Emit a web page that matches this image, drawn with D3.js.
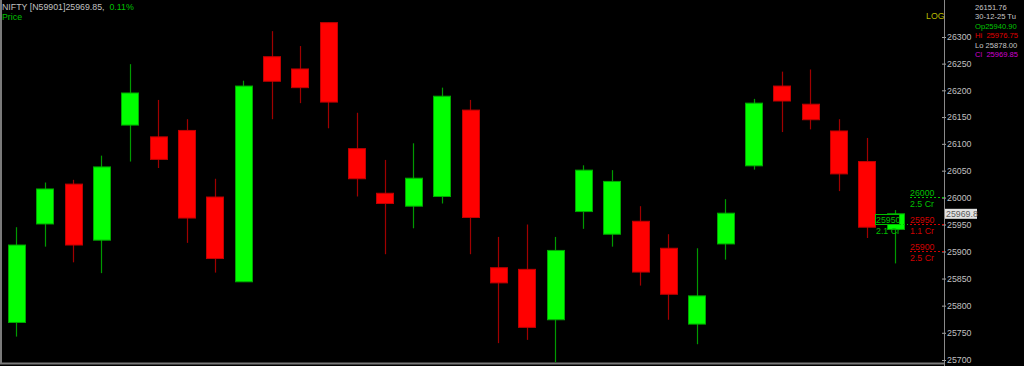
<!DOCTYPE html>
<html>
<head>
<meta charset="utf-8">
<script src="https://cdn.jsdelivr.net/npm/d3@7"></script>
<style>
html, body { margin: 0; padding: 0; background: #000; overflow: hidden; }
svg { display: block; font-family: "Liberation Sans", Arial, sans-serif; }
text { white-space: pre; }
</style>
</head>
<body>
<svg id="chart"></svg>
<script>
// daily NIFTY candles, 14-Nov-25 .. 30-Dec-25
const dates = ["14-11","17-11","18-11","19-11","20-11","21-11","24-11","25-11","26-11","27-11","28-11",
               "01-12","02-12","03-12","04-12","05-12","08-12","09-12","10-12","11-12","12-12",
               "15-12","16-12","17-12","18-12","19-12","22-12","23-12","24-12","26-12","29-12","30-12"];
const opens  = [25769,25951,26025,25921,26135,26113,26125,26001,25844,26263,26240,
                26327,26091,26008,25984,26002,26163,25870,25867,25774,25974,
                25932,25956,25906,25766,25914,26059,26208,26174,26124,26067,25940.90];
const highs  = [25945,26028,26033,26078,26249,26182,26146,26035,26218,26311,26283,
                26327,26158,26070,26101,26205,26182,25927,25950,25927,26060,
                26051,25984,25932,25906,25997,26184,26235,26239,26146,26111,25976.75];
const lows   = [25743,25909,25880,25860,26067,26055,25916,25861,25844,26146,26176,
                26129,26002,25895,25943,25989,25895,25731,25737,25696,25942,
                25909,25837,25774,25729,25885,26052,26122,26127,26012,25925,25878.00];
const closes = [25912,26016,25912,26057,26195,26071,25962,25887,26208,26217,26205,
                26178,26035,25989,26036,26189,25963,25842,25760,25902,26051,
                26030,25862,25821,25818,25971,26176,26180,26145,26044,25945,25969.85];

const priceTicks = [25700,25750,25800,25850,25900,25950,26000,26050,26100,26150,26200,26250,26300];

// order levels on the right
const levelPrices = [26000, 25950, 25900];
const levelQty    = ["2.5 Cr", "1.1 Cr", "2.5 Cr"];
const levelSide   = ["buy", "sell", "sell"];
const positionPrice = 25950;
const positionQty   = "2.1 Cr";

const infoLines  = ["26151.76", "30-12-25 Tu", "Op25940.90", "Hi  25976.75", "Lo 25878.00", "Cl  25969.85"];
const infoColors = ["#c8c8c8", "#c8c8c8", "#00c800", "#e00000", "#c8c8c8", "#d000d0"];

const W = 1024, H = 366;
const axisX = 944;
const FS = 8.8;

const candles = dates.map((d, i) => ({
  date: d, open: opens[i], high: highs[i], low: lows[i], close: closes[i]
}));

const svg = d3.select("#chart").attr("width", W).attr("height", H);
svg.append("rect").attr("width", W).attr("height", H).attr("fill", "#000");

const x = d3.scaleBand()
  .domain(dates)
  .range([2.1, 909.3])
  .paddingInner(0.41)
  .paddingOuter(0.205);

const y = d3.scaleLog()
  .domain([25700, 26300])
  .range([360, 37]);

const bw = Math.round(x.bandwidth());

// frame
svg.append("line").attr("x1", 1).attr("x2", 1).attr("y1", 0).attr("y2", 364)
  .attr("stroke", "#7a7a7a").attr("stroke-width", 2);
svg.append("line").attr("x1", 0).attr("x2", axisX).attr("y1", 363.5).attr("y2", 363.5)
  .attr("stroke", "#7a7a7a").attr("stroke-width", 2);
svg.append("line").attr("x1", axisX + 0.5).attr("x2", axisX + 0.5).attr("y1", 0).attr("y2", H)
  .attr("stroke", "#8a8a8a").attr("stroke-width", 1);

// candles
const plot = svg.append("g");
const up = d => d.close >= d.open;

plot.selectAll(".wick")
  .data(candles)
  .join("line")
  .attr("class", "wick")
  .attr("x1", d => Math.round(x(d.date) + bw / 2) + 0.5)
  .attr("x2", d => Math.round(x(d.date) + bw / 2) + 0.5)
  .attr("y1", d => y(d.high))
  .attr("y2", d => y(d.low))
  .attr("stroke", d => up(d) ? "#009a00" : "#a00000")
  .attr("stroke-width", 1.2);

plot.selectAll(".body")
  .data(candles)
  .join("rect")
  .attr("class", "body")
  .attr("x", d => Math.round(x(d.date)) + 0.5)
  .attr("y", d => y(Math.max(d.open, d.close)))
  .attr("width", bw)
  .attr("height", d => Math.max(1, y(Math.min(d.open, d.close)) - y(Math.max(d.open, d.close))))
  .attr("fill", d => up(d) ? "#00ff00" : "#ff0000")
  .attr("stroke", d => up(d) ? "#00a800" : "#c00000")
  .attr("stroke-width", 1);

// price axis
const axis = svg.append("g")
  .attr("transform", `translate(${axisX},0)`)
  .call(d3.axisRight(y).tickValues(priceTicks).tickFormat(d3.format("d")).tickSize(2).tickPadding(1).tickSizeOuter(0));
axis.select(".domain").remove();
axis.selectAll(".tick line").attr("x1", -2).attr("stroke", "#a0a0a0");
axis.selectAll(".tick text")
  .attr("fill", "#c0c0c0")
  .attr("font-size", FS)
  .attr("font-family", "Liberation Sans, Arial, sans-serif");

// order levels
const lvl = svg.append("g");
levelPrices.forEach((p, i) => {
  const c = levelSide[i] === "buy" ? "#00c000" : "#d00000";
  const yy = Math.round(y(p)) - 0.5;
  lvl.append("line").attr("x1", 910).attr("x2", axisX).attr("y1", yy).attr("y2", yy)
    .attr("stroke", c).attr("stroke-dasharray", "2,2");
  lvl.append("text").attr("x", 910).attr("y", yy - 2).attr("fill", c)
    .attr("font-size", FS).text(d3.format("d")(p));
  lvl.append("text").attr("x", 910).attr("y", yy + 9.5).attr("fill", c)
    .attr("font-size", FS).text(levelQty[i]);
});

// open position tag
const py = Math.round(y(positionPrice)) - 0.5;
lvl.append("line").attr("x1", 875).attr("x2", 908).attr("y1", py).attr("y2", py)
  .attr("stroke", "#00c000").attr("stroke-dasharray", "2,2");
lvl.append("rect").attr("x", 875.5).attr("y", py - 10).attr("width", 24).attr("height", 10)
  .attr("fill", "#000").attr("stroke", "#00c000").attr("stroke-width", 1);
lvl.append("text").attr("x", 876).attr("y", py - 2).attr("fill", "#00c000")
  .attr("font-size", FS).text(d3.format("d")(positionPrice));
lvl.append("text").attr("x", 876).attr("y", py + 9.5).attr("fill", "#00c000")
  .attr("font-size", FS).text(positionQty);

// last price tag
const last = candles[candles.length - 1];
const ly = y(last.close);
svg.append("rect").attr("x", 945).attr("y", ly - 5).attr("width", 32).attr("height", 10)
  .attr("fill", "#e2e2e2");
svg.append("text").attr("x", 946).attr("y", ly + 3.2).attr("fill", "#5a5a5a")
  .attr("font-size", FS).text(d3.format(".1f")(Math.floor(last.close * 10) / 10));

// header
const head = svg.append("text").attr("x", 2).attr("y", 10).attr("font-size", FS);
head.append("tspan").attr("fill", "#c0c0c0").text("NIFTY [N59901]25969.85, ");
head.append("tspan").attr("fill", "#00c000").text(" 0.11%");
svg.append("text").attr("x", 2).attr("y", 20).attr("font-size", FS).attr("fill", "#00c000").text("Price");
svg.append("text").attr("x", 926).attr("y", 19).attr("font-size", FS).attr("fill", "#b8b800").text("LOG");

// info panel, a touch smaller so the long lines stay inside the window
const infoX = 975;
svg.append("g").selectAll("text")
  .data(infoLines)
  .join("text")
  .attr("x", infoX)
  .attr("y", (d, i) => 10 + i * 9.4)
  .attr("font-size", 7.6)
  .attr("fill", (d, i) => infoColors[i])
  .text(d => d);
</script>
</body>
</html>
